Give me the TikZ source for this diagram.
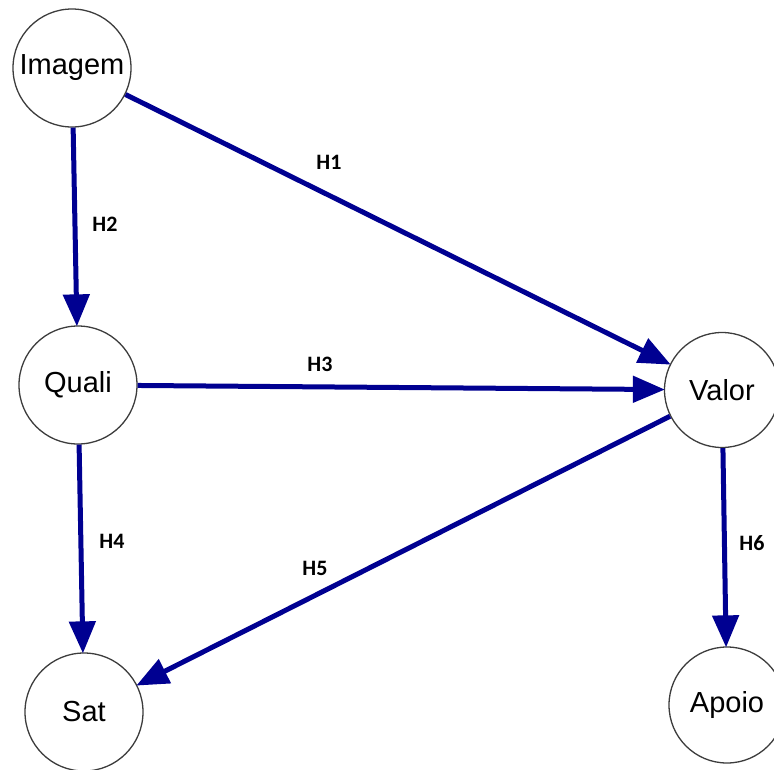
\documentclass[tikz,border=0pt]{standalone}
\usepackage{fontspec}
\setmainfont{Liberation Sans}
\newfontfamily\lblfont{Carlito}
\usetikzlibrary{arrows.meta}
\definecolor{edgeblue}{RGB}{0,0,145}
\definecolor{circgray}{RGB}{60,60,60}
\begin{document}
\begin{tikzpicture}[x=1pt,y=-1pt,
  var/.style={circle,draw=circgray,line width=1.3pt,fill=white,minimum size=118pt,inner sep=0pt,font=\fontsize{29}{32}\selectfont},
  path/.style={draw=edgeblue,line width=5pt,-{Triangle[length=32pt,width=26pt]},shorten >=-1pt},
  lbl/.style={font=\lblfont\bfseries\fontsize{22}{24}\selectfont,text=black}]
\useasboundingbox (0,0) rectangle (774,769);
\node[var] (img) at (72,68) {Imagem};
\node[var] (qua) at (78,385) {Quali};
\node[var,minimum size=115pt] (val) at (722,390) {Valor};
\node[var] (sat) at (84,712) {Sat};
\node[var,minimum size=116pt] (apo) at (727,705) {Apoio};
\draw[path] (img) -- (val);
\draw[path] (img) -- (qua);
\draw[path] (qua) -- (val);
\draw[path] (qua) -- (sat);
\draw[path] (val) -- (sat);
\draw[path] (val) -- (apo);
\node[lbl] (h1) at (329,162) {H1};
\node[lbl] (h2) at (105,224) {H2};
\node[lbl] (h3) at (320,364) {H3};
\node[lbl] (h4) at (112,541) {H4};
\node[lbl] (h5) at (315,568) {H5};
\node[lbl] (h6) at (752,543) {H6};
\end{tikzpicture}
\end{document}
